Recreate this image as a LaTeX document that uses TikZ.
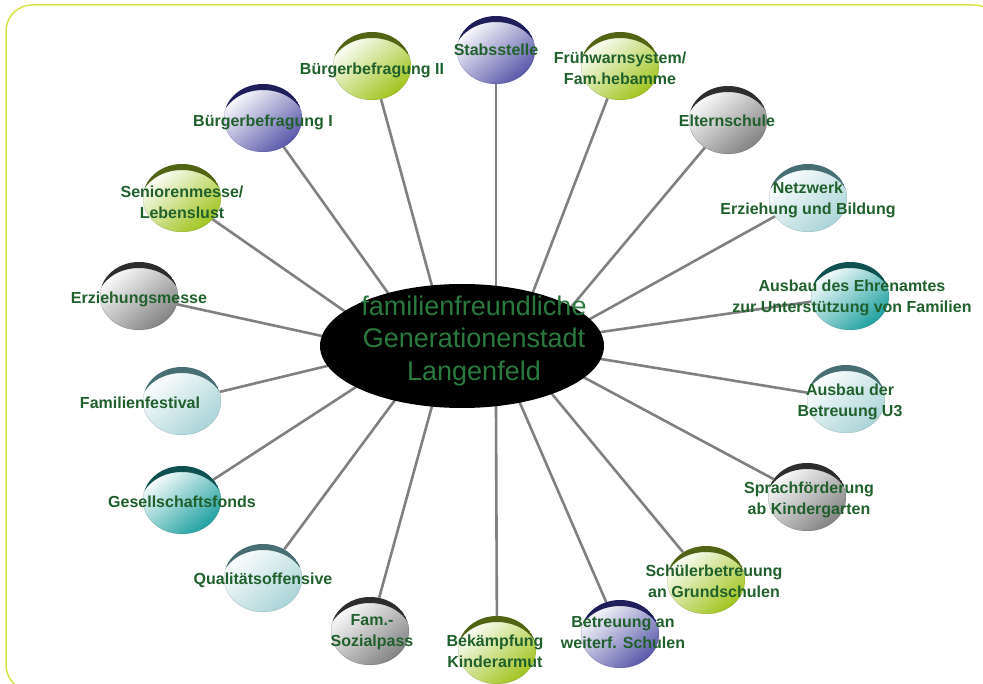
\documentclass[tikz,border=0pt]{standalone}
\usepackage{fontspec}
\setmainfont{Liberation Sans}
\usetikzlibrary{shapes.geometric,calc}
\pgfdeclarelayer{bg}
\pgfsetlayers{bg,main}
\definecolor{bordc}{RGB}{218,226,70}
\definecolor{linec}{RGB}{128,128,128}
\definecolor{txtc}{RGB}{32,96,44}
\definecolor{ctxt}{RGB}{42,122,62}
\definecolor{blueb}{RGB}{88,88,170}
\definecolor{bluecap}{RGB}{30,30,90}
\definecolor{greenb}{RGB}{160,196,30}
\definecolor{greencap}{RGB}{80,100,20}
\definecolor{grayb}{RGB}{130,130,130}
\definecolor{graycap}{RGB}{45,45,45}
\definecolor{ltealb}{RGB}{170,212,216}
\definecolor{ltealcap}{RGB}{70,110,115}
\definecolor{tealb}{RGB}{30,160,160}
\definecolor{tealcap}{RGB}{15,80,80}
\tikzset{
  bubble/.style={ellipse, minimum width=78pt, minimum height=68pt, inner sep=0pt,
    top color=white, bottom color=#1, shading angle=40},
  btext/.style={font=\fontsize{16}{21}\selectfont\bfseries, text=txtc, align=center, inner sep=0pt},
  ctext/.style={font=\fontsize{27}{32.5}\selectfont, text=ctxt, align=center, inner sep=0pt},
  conn/.style={draw=linec, line width=2.6pt},
  frame/.style={draw=bordc, line width=1.5pt, rounded corners=26pt}
}
\newcommand\mybub[5]{%
  \node[bubble=#4] (#1) at (#2,#3) {};
  \begin{scope}
    \clip (#1.center) ellipse[x radius=39pt, y radius=34pt];
    \fill[#5, even odd rule] (#1.center) ellipse[x radius=39pt, y radius=34pt]
      ([yshift=-6pt]#1.center) ellipse[x radius=42pt, y radius=34pt];
  \end{scope}}
\begin{document}
\begin{tikzpicture}[x=1pt,y=-1pt]
\useasboundingbox (0,0) rectangle (983,684);
\draw[frame] (6,5) rectangle (1000,691);

% bubbles
\mybub{b1}{496}{50}{blueb}{bluecap}
\mybub{b2}{372}{66}{greenb}{greencap}
\mybub{b3}{620}{66}{greenb}{greencap}
\mybub{b4}{728}{120}{grayb}{graycap}
\mybub{b5}{808}{198}{ltealb}{ltealcap}
\mybub{b6}{850}{296}{tealb}{tealcap}
\mybub{b7}{846}{399}{ltealb}{ltealcap}
\mybub{b8}{807}{497}{grayb}{graycap}
\mybub{b9}{706}{580}{greenb}{greencap}
\mybub{b10}{620}{634}{blueb}{bluecap}
\mybub{b11}{497}{650}{greenb}{greencap}
\mybub{b12}{370}{631}{grayb}{graycap}
\mybub{b13}{263}{578}{ltealb}{ltealcap}
\mybub{b14}{182}{500}{tealb}{tealcap}
\mybub{b15}{182}{401}{ltealb}{ltealcap}
\mybub{b16}{139}{296}{grayb}{graycap}
\mybub{b17}{182}{198}{greenb}{greencap}
\mybub{b18}{263}{118}{blueb}{bluecap}

% centre
\node[ellipse, fill=black, minimum width=284pt, minimum height=124pt, inner sep=0pt] (c) at (462,346) {};
\node[ctext] (ct) at (474,341) {familienfreundliche\\Generationenstadt\\Langenfeld};

% connector ends inside the centre ellipse
\coordinate (e1) at ($(b1.center)!1.15!(496,286)$);
\coordinate (e2) at ($(b2.center)!1.15!(432,286)$);
\coordinate (e3) at ($(b3.center)!1.15!(533,292)$);
\coordinate (e4) at ($(b4.center)!1.15!(572,306)$);
\coordinate (e5) at ($(b5.center)!1.15!(590,319)$);
\coordinate (e6) at ($(b6.center)!1.15!(601,332)$);
\coordinate (e7) at ($(b7.center)!1.15!(601,359)$);
\coordinate (e8) at ($(b8.center)!1.15!(585,378)$);
\coordinate (e9) at ($(b9.center)!1.15!(552,394)$);
\coordinate (e10) at ($(b10.center)!1.15!(520,403)$);
\coordinate (e11) at ($(b11.center)!1.15!(496,407)$);
\coordinate (e12) at ($(b12.center)!1.15!(432,406)$);
\coordinate (e13) at ($(b13.center)!1.15!(395,400)$);
\coordinate (e14) at ($(b14.center)!1.15!(356,387)$);
\coordinate (e15) at ($(b15.center)!1.15!(327,366)$);
\coordinate (e16) at ($(b16.center)!1.15!(322,336)$);
\coordinate (e17) at ($(b17.center)!1.15!(340,308)$);
\coordinate (e18) at ($(b18.center)!1.15!(388,293)$);

\begin{pgfonlayer}{bg}
\foreach \i in {1,...,18} { \draw[conn] (b\i) -- (e\i); }
\end{pgfonlayer}

% texts
\node[btext] (t1) at (496,50) {Stabsstelle};
\node[btext] (t2) at (372,70) {Bürgerbefragung II};
\node[btext] (t3) at (620,68) {Frühwarnsystem/\\Fam.hebamme};
\node[btext] (t4) at (727,121) {Elternschule};
\node[btext] (t5) at (808,200) {Netzwerk\\Erziehung und Bildung};
\node[btext] (t6) at (852,298) {Ausbau des Ehrenamtes\\zur Unterstützung von Familien};
\node[btext] (t7) at (850,402) {Ausbau der\\Betreuung U3};
\node[btext] (t8) at (809,500) {Sprachförderung\\ab Kindergarten};
\node[btext] (t9) at (714,581) {Schülerbetreuung\\an Grundschulen};
\node[btext] (t10) at (623,633) {Betreuung an\\weiterf. Schulen};
\node[btext] (t11) at (495,651) {Bekämpfung\\Kinderarmut};
\node[btext] (t12) at (372,632) {Fam.-\\Sozialpass};
\node[btext] (t13) at (263,580) {Qualitätsoffensive};
\node[btext] (t14) at (182,502) {Gesellschaftsfonds};
\node[btext] (t15) at (140,403) {Familienfestival};
\node[btext] (t16) at (139,299) {Erziehungsmesse};
\node[btext] (t17) at (182,202) {Seniorenmesse/\\Lebenslust};
\node[btext] (t18) at (263,122) {Bürgerbefragung I};
\end{tikzpicture}
\end{document}
